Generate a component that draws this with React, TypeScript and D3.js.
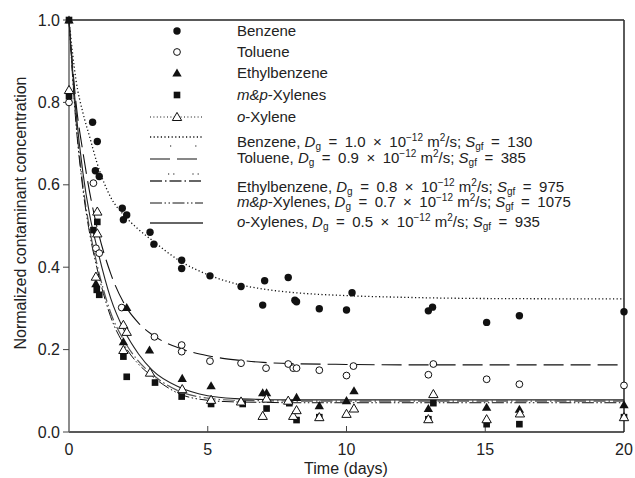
import React from "react";
import * as d3 from "d3";

// measured data (days, normalized concentration)
const benzeneDays = [0.85, 0.95, 1.02, 1.09, 1.92, 1.96, 2.08, 2.92, 3.06, 4.06, 4.06, 5.08, 6.2, 6.98, 7.05, 7.9, 8.14, 8.2, 9.02, 10.0, 10.2, 12.95, 13.1, 15.05, 16.23, 20];
const benzeneConc = [0.752, 0.634, 0.705, 0.62, 0.543, 0.515, 0.527, 0.485, 0.456, 0.417, 0.397, 0.379, 0.353, 0.308, 0.367, 0.375, 0.32, 0.316, 0.299, 0.296, 0.338, 0.294, 0.303, 0.266, 0.282, 0.292];

const tolueneDays = [0, 0.88, 0.97, 1.09, 1.9, 3.08, 4.06, 4.06, 5.08, 6.2, 7.1, 7.9, 8.08, 8.2, 9.02, 10.0, 10.25, 12.95, 13.13, 15.05, 16.23, 20];
const tolueneConc = [0.8, 0.604, 0.446, 0.434, 0.302, 0.231, 0.211, 0.195, 0.172, 0.167, 0.155, 0.165, 0.155, 0.155, 0.15, 0.137, 0.16, 0.139, 0.165, 0.128, 0.116, 0.113];

const ethylDays = [0, 0.97, 1.96, 2.08, 2.9, 4.08, 5.12, 6.98, 7.12, 8.2, 9.02, 10.0, 10.27, 12.95, 15.05, 16.23, 20];
const ethylConc = [1.0, 0.36, 0.219, 0.302, 0.199, 0.13, 0.112, 0.095, 0.095, 0.084, 0.064, 0.076, 0.1, 0.057, 0.06, 0.055, 0.066];

const mpDays = [0, 0, 0.88, 1.02, 1.0, 1.09, 1.96, 2.08, 3.1, 4.06, 5.12, 6.26, 7.12, 7.94, 8.2, 9.02, 12.95, 13.13, 15.05, 16.23, 20];
const mpConc = [1.0, 0.815, 0.49, 0.51, 0.345, 0.333, 0.183, 0.134, 0.12, 0.086, 0.068, 0.068, 0.057, 0.07, 0.029, 0.036, 0.031, 0.07, 0.019, 0.019, 0.036];

const oxDays = [0, 1.02, 1.02, 0.97, 1.96, 2.08, 1.96, 2.92, 4.08, 5.12, 6.2, 6.98, 7.12, 7.9, 8.08, 8.2, 9.02, 10.0, 10.27, 12.95, 13.13, 15.05, 16.25, 20];
const oxConc = [0.83, 0.535, 0.482, 0.377, 0.26, 0.243, 0.199, 0.144, 0.104, 0.078, 0.074, 0.039, 0.081, 0.076, 0.039, 0.053, 0.036, 0.044, 0.057, 0.031, 0.092, 0.031, 0.045, 0.036];

// model curves
const modelDays = [0, 0.25, 0.5, 0.75, 1, 1.5, 2, 2.5, 3, 4, 5, 6, 7, 8, 10, 12, 15, 20];
const benzeneModel = [1.0, 0.855, 0.775, 0.715, 0.655, 0.57, 0.525, 0.492, 0.465, 0.415, 0.382, 0.36, 0.347, 0.339, 0.331, 0.327, 0.324, 0.323];
const tolueneModel = [1.0, 0.8, 0.68, 0.58, 0.5, 0.385, 0.31, 0.265, 0.236, 0.203, 0.185, 0.175, 0.169, 0.166, 0.164, 0.163, 0.163, 0.163];
const ethylModel = [1.0, 0.76, 0.6, 0.49, 0.41, 0.29, 0.22, 0.172, 0.14, 0.098, 0.082, 0.077, 0.076, 0.075, 0.075, 0.075, 0.075, 0.075];
const mpModel = [1.0, 0.75, 0.59, 0.48, 0.4, 0.28, 0.21, 0.165, 0.135, 0.092, 0.077, 0.073, 0.072, 0.071, 0.071, 0.071, 0.071, 0.071];
const oxModel = [1.0, 0.78, 0.63, 0.525, 0.45, 0.325, 0.245, 0.19, 0.15, 0.108, 0.088, 0.081, 0.079, 0.078, 0.078, 0.078, 0.078, 0.078];

const xTicks = [0, 5, 10, 15, 20];
const yTicks = [0, 0.2, 0.4, 0.6, 0.8, 1.0];

const dataLabels = ["Benzene", "Toluene", "Ethylbenzene", "m&p-Xylenes", "o-Xylene"];
const modelNames = ["Benzene", "Toluene", "Ethylbenzene", "m&p-Xylenes", "o-Xylenes"];
const modelDg = ["1.0", "0.9", "0.8", "0.7", "0.5"];
const modelSgf = ["130", "385", "975", "1075", "935"];

const FONT = "'Liberation Sans', Arial, Helvetica, sans-serif";
const W = 635;
const H = 478;
const SP = "\u2002"; // wide math spacing

const x = d3.scaleLinear().domain([0, 20]).range([69, 624]);
const y = d3.scaleLinear().domain([0, 1]).range([432, 20]);

const lineGen = d3
  .line<number>()
  .x((_, i) => x(modelDays[i]))
  .y((d) => y(d))
  .curve(d3.curveMonotoneX);

const triPath = d3.symbol().type(d3.symbolTriangle).size(38)() || "";
const sqPath = d3.symbol().type(d3.symbolSquare).size(44)() || "";

type Kind = "dot" | "ring" | "tri" | "sq" | "otri";

function Marker({ kind, cx, cy }: { kind: Kind; cx: number; cy: number }) {
  if (kind === "dot") return <circle cx={cx} cy={cy} r={3.7} fill="#111" />;
  if (kind === "ring") return <circle cx={cx} cy={cy} r={3.4} fill="#fff" stroke="#111" strokeWidth={1} />;
  if (kind === "tri") return <path d={triPath} transform={`translate(${cx},${cy + 0.8})`} fill="#111" />;
  if (kind === "otri")
    return <path d={triPath} transform={`translate(${cx},${cy + 0.8})`} fill="#fff" stroke="#111" strokeWidth={1} />;
  return <path d={sqPath} transform={`translate(${cx},${cy})`} fill="#111" />;
}

const series: { days: number[]; conc: number[]; kind: Kind }[] = [
  { days: benzeneDays, conc: benzeneConc, kind: "dot" },
  { days: tolueneDays, conc: tolueneConc, kind: "ring" },
  { days: ethylDays, conc: ethylConc, kind: "tri" },
  { days: mpDays, conc: mpConc, kind: "sq" },
  { days: oxDays, conc: oxConc, kind: "otri" },
];

const models = [
  { vals: benzeneModel, stroke: "#111", width: 1.3, dash: "1.2,2.4" },
  { vals: tolueneModel, stroke: "#111", width: 1.1, dash: "20,7" },
  { vals: ethylModel, stroke: "#555", width: 1.2, dash: "12,3,1.5,3" },
  { vals: mpModel, stroke: "#111", width: 1.0, dash: "12,2.5,1.5,2.5,1.5,2.5" },
  { vals: oxModel, stroke: "#222", width: 1.1, dash: "" },
];

const legendDataY = [31, 52, 73, 95, 117];
const legendModelY = [137, 159, 181, 203, 223];
const legendModelTextY = [147, 163, 192, 207, 227];

function ItalicLabel({ name }: { name: string }) {
  if (name.startsWith("m&p")) {
    return (
      <>
        <tspan fontStyle="italic">m&amp;p</tspan>
        <tspan>{name.slice(3)}</tspan>
      </>
    );
  }
  if (name.startsWith("o-")) {
    return (
      <>
        <tspan fontStyle="italic">o</tspan>
        <tspan>{name.slice(1)}</tspan>
      </>
    );
  }
  return <tspan>{name}</tspan>;
}

export default function App() {
  const lx = 237;
  return (
    <svg
      width={W}
      height={H}
      style={{ position: "absolute", left: 0, top: 0, background: "#fff" }}
      fontFamily={FONT}
    >
      <rect width={W} height={H} fill="#fff" />

      {/* frame */}
      <line x1={x(0)} x2={x(20)} y1={y(1)} y2={y(1)} stroke="#222" strokeWidth={1.3} />
      <line x1={x(20)} x2={x(20)} y1={y(1)} y2={y(0)} stroke="#333" strokeWidth={1.6} />
      <line x1={x(0)} x2={x(20)} y1={y(0)} y2={y(0)} stroke="#222" strokeWidth={1.3} />
      <line x1={x(0)} x2={x(0)} y1={y(1)} y2={y(0)} stroke="#666" strokeWidth={1.5} />

      {/* y ticks */}
      {yTicks.map((t) => (
        <g key={"y" + t}>
          <line x1={x(0) - 6} x2={x(0)} y1={y(t)} y2={y(t)} stroke="#444" strokeWidth={1} />
          <text x={x(0) - 9} y={y(t) + 5.5} textAnchor="end" fontSize={16} fill="#222">
            {t.toFixed(1)}
          </text>
        </g>
      ))}

      {/* x ticks */}
      {xTicks.map((t) => (
        <g key={"x" + t}>
          {t > 0 && t < 20 && (
            <line x1={x(t)} x2={x(t)} y1={y(0)} y2={y(0) - 6} stroke="#444" strokeWidth={1} />
          )}
          <text x={x(t)} y={455} textAnchor="middle" fontSize={16} fill="#222">
            {t}
          </text>
        </g>
      ))}

      <text x={346} y={474} textAnchor="middle" fontSize={16} fill="#222">
        Time (days)
      </text>
      <text transform={`translate(26,${213}) rotate(-90)`} textAnchor="middle" fontSize={16} fill="#222">
        Normalized contaminant concentration
      </text>

      {/* model curves */}
      {models.map((m, i) => (
        <path
          key={"m" + i}
          d={lineGen(m.vals) || ""}
          fill="none"
          stroke={m.stroke}
          strokeWidth={m.width}
          strokeDasharray={m.dash || undefined}
        />
      ))}

      {/* data points */}
      {series.map((s, si) =>
        s.days.map((d, i) => <Marker key={si + "-" + i} kind={s.kind} cx={x(d)} cy={y(s.conc[i])} />)
      )}

      {/* legend: data symbols */}
      {dataLabels.map((lab, i) => (
        <g key={"ld" + i}>
          {i === 4 && (
            <line x1={150} x2={203} y1={legendDataY[i]} y2={legendDataY[i]} stroke="#111" strokeWidth={1} strokeDasharray="1,2.4" />
          )}
          <Marker kind={series[i].kind} cx={177} cy={legendDataY[i]} />
          <text x={lx} y={legendDataY[i] + 5} fontSize={15} fill="#222">
            <ItalicLabel name={lab} />
          </text>
        </g>
      ))}

      {/* legend: model lines */}
      {modelNames.map((name, i) => {
        const m = models[i];
        const ly = legendModelY[i];
        return (
          <g key={"lm" + i}>
            <line
              x1={150}
              x2={203}
              y1={ly}
              y2={ly}
              stroke={i === 2 || i === 4 ? "#666" : m.stroke}
              strokeWidth={i === 2 || i === 4 ? 2 : m.width}
              strokeDasharray={m.dash || undefined}
            />
            {i === 0 && (
              <line x1={170} x2={203} y1={ly + 9} y2={ly + 9} stroke="#111" strokeWidth={1.2} strokeDasharray="1.2,24" />
            )}
            {i === 2 && (
              <line x1={168} x2={203} y1={ly - 7} y2={ly - 7} stroke="#111" strokeWidth={1.1} strokeDasharray="1.2,4,1.2,18" />
            )}
            <text x={lx} y={legendModelTextY[i]} fontSize={15} fill="#222">
              <ItalicLabel name={name} />
              <tspan>, </tspan>
              <tspan fontStyle="italic">D</tspan>
              <tspan fontSize={10} dy={3}>g</tspan>
              <tspan dy={-3}>{`${SP}=${SP}${modelDg[i]}${SP}×${SP}10`}</tspan>
              <tspan fontSize={10} dy={-6}>−12</tspan>
              <tspan dy={6}> m</tspan>
              <tspan fontSize={10} dy={-6}>2</tspan>
              <tspan dy={6}>/s; </tspan>
              <tspan fontStyle="italic">S</tspan>
              <tspan fontSize={10} dy={3}>gf</tspan>
              <tspan dy={-3}>{`${SP}=${SP}${modelSgf[i]}`}</tspan>
            </text>
          </g>
        );
      })}
    </svg>
  );
}
